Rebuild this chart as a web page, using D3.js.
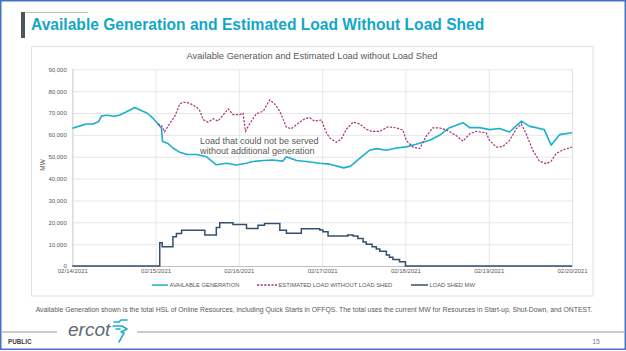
<!DOCTYPE html>
<html><head><meta charset="utf-8">
<script src="https://cdn.jsdelivr.net/npm/d3@7/dist/d3.min.js"></script>
<style>
body{margin:0;background:#fff}
svg{display:block}
text{font-family:"Liberation Sans",Arial,Helvetica,sans-serif}
</style>
</head><body>
<svg id="c" width="626" height="351"></svg>
<script>
// ---- data ----
const dayLabels = ["02/14/2021","02/15/2021","02/16/2021","02/17/2021","02/18/2021","02/19/2021","02/20/2021"];
const yTicks = [0,10000,20000,30000,40000,50000,60000,70000,80000,90000];
const seriesNames = ["AVAILABLE GENERATION","ESTIMATED LOAD WITHOUT LOAD SHED","LOAD SHED MW"];

// hours since 02/14/2021 00:00
const genHours = [0,2,4,6,7.5,8.5,10,12,13.5,15.5,18,20,21.5,23.3,24.7,25.7,26,27.6,29,31,33,35.8,38.6,41.5,44.4,47.3,50.2,52,55,57.8,60.7,61.7,64.6,67.4,71.3,74.2,78.2,80.2,82.8,85.7,87.6,90.5,93.4,96.2,99.1,103,105.8,108.7,112.6,114.5,117.4,120.2,123.1,126,129.4,131.8,133.7,136,138,140.4,144];
const genMW = [63000,64000,65000,65000,66000,68700,69000,68500,69000,70500,72500,71000,70000,67500,65000,63000,57000,56000,54000,52000,51000,51000,50000,46300,47000,46200,47000,47800,48300,48500,48000,50000,48300,47800,47000,46600,44900,45700,49200,53000,53700,53000,54000,54500,55700,57500,59800,63300,65600,63300,63300,62400,62900,61300,66300,63900,63300,62400,55300,60100,61000];

const loadHours = [24.7,25.7,26.6,28,29.5,31,32,33.8,35.8,36.7,37.7,39.1,40.6,42,43.4,44.9,46.3,48.2,49.2,49.9,51.1,53,55,56.9,58.3,59.8,61.7,63.1,65.5,67,68.4,69.8,71.8,73.2,74.2,76.1,77.5,79,80.9,82.8,84.7,86.2,88.6,91,93.4,95.3,96.2,98.2,100.1,102,103.9,105.8,107.8,110.6,112.6,114.5,116.4,119.3,120.2,122.2,124.1,126,127.9,129.4,130.8,132.7,134.6,136.6,138,139.4,141.4,144];
const loadMW = [65000,64300,61400,65000,68400,74200,75000,74500,72700,71200,67000,65800,67400,66300,68900,71900,69300,69300,69900,61700,65000,69600,70800,76000,74200,70800,63500,62800,65800,67400,67900,66300,66800,61000,58600,56600,58000,62600,65800,65000,62600,61600,61600,63700,63200,62200,57500,54400,53700,59400,63200,63200,62200,59700,57100,60500,61600,60900,57500,54400,54700,57500,62600,65000,60500,52900,48000,46800,48000,51400,53200,54400];

const shedHours = [0,25.2,25.9,29,30,31.5,38.2,41.5,42.5,46.3,50.2,53.5,55.4,59.8,61.7,66,71.3,72.2,73.7,79.4,80.9,82.3,83.8,84.7,86.4,87.6,88.6,90.5,91.4,92.4,94.3,96,144];
const shedMW = [0,10600,8800,13400,14900,16400,14150,17650,19800,19000,17200,18700,19500,16400,15000,17000,16500,15700,13700,14150,13700,12600,11000,10000,8800,7800,6800,5000,4000,3000,1900,0,0];

// ---- drawing ----
const svg = d3.select("#c");
const W = 626, H = 351;
const teal = "#1DAFCD", magenta = "#A8307A", navy = "#33506F", grey = "#595959";

svg.append("rect").attr("x",0).attr("y",0).attr("width",W).attr("height",H).attr("fill","#fff");

// slide header
svg.append("line").attr("x1",21).attr("x2",88).attr("y1",12.5).attr("y2",12.5).attr("stroke","#BFBFBF").attr("stroke-width",1.2);
svg.append("rect").attr("x",21).attr("y",12).attr("width",4).attr("height",26).attr("fill","#4A5660");
svg.append("text").attr("x",31).attr("y",29.5).attr("font-size",15.6).attr("font-weight","bold")
  .attr("fill","#12A7C7").text("Available Generation and Estimated Load Without Load Shed");

// chart box
svg.append("rect").attr("x",31.5).attr("y",46.5).attr("width",561.5).attr("height",249.5)
  .attr("fill","#fff").attr("stroke","#E3E3E3").attr("stroke-width",1);

svg.append("text").attr("x",312).attr("y",58.5).attr("text-anchor","middle").attr("font-size",9.3)
  .attr("fill",grey).text("Available Generation and Estimated Load without Load Shed");

const t0 = new Date(2021,1,14);
const toDate = h => new Date(t0.getTime() + h*3600e3);
const dayDates = dayLabels.map((d,i)=>toDate(i*24));
const x = d3.scaleTime().domain([t0, toDate(144)]).range([72.3,572]);
const y = d3.scaleLinear().domain([0,90000]).range([266,69.3]);

// y axis + horizontal grid
const gy = svg.append("g").attr("transform","translate(72.3,0)")
  .call(d3.axisLeft(y).tickValues(yTicks).tickFormat(d3.format(",")).tickSize(-(572-72.3)).tickPadding(5.5));
gy.select(".domain").remove();
gy.selectAll(".tick line").attr("stroke","#E4E4E4").attr("stroke-width",0.9);
gy.selectAll(".tick text").attr("font-size",6).attr("fill",grey).attr("font-family","Liberation Sans, Arial, sans-serif");

// x axis + vertical grid
const gx = svg.append("g").attr("transform","translate(0,266)")
  .call(d3.axisBottom(x).tickValues(dayDates).tickFormat((d,i)=>dayLabels[i]).tickSize(-(266-69.3)).tickPadding(3));
gx.select(".domain").attr("stroke","#BFBFBF").attr("stroke-width",1);
gx.selectAll(".tick line").attr("stroke","#E4E4E4").attr("stroke-width",0.9);
gx.selectAll(".tick text").attr("font-size",6).attr("fill",grey).attr("font-family","Liberation Sans, Arial, sans-serif");

// y axis title
svg.append("text").attr("transform","translate(45,165) rotate(-90)").attr("text-anchor","middle")
  .attr("font-size",6.5).attr("fill",grey).text("MW");

// lines
const lineLin = d3.line().x(d=>x(toDate(d[0]))).y(d=>y(d[1]));
const lineStep = d3.line().x(d=>x(toDate(d[0]))).y(d=>y(d[1])).curve(d3.curveStepAfter);

svg.append("path").datum(shedHours.map((h,i)=>[h,shedMW[i]]))
  .attr("d",lineStep).attr("fill","none").attr("stroke",navy).attr("stroke-width",1.5);
svg.append("path").datum(genHours.map((h,i)=>[h,genMW[i]]))
  .attr("d",lineLin).attr("fill","none").attr("stroke",teal).attr("stroke-width",1.6).attr("stroke-linejoin","round");
svg.append("path").datum(loadHours.map((h,i)=>[h,loadMW[i]]))
  .attr("d",lineLin).attr("fill","none").attr("stroke",magenta).attr("stroke-width",1.2).attr("stroke-dasharray","2.2,1.4");

// annotation
const ann = svg.append("text").attr("font-size",9).attr("fill",grey);
ann.append("tspan").attr("x",200).attr("y",143.5).text("Load that could not be served");
ann.append("tspan").attr("x",200).attr("y",153.5).text("without additional generation");

// legend
const legend = [
  {name:seriesNames[0], x1:152, x2:168, color:teal, dash:null},
  {name:seriesNames[1], x1:257, x2:277, color:magenta, dash:"2.2,1.4"},
  {name:seriesNames[2], x1:411, x2:428, color:navy, dash:null}
];
legend.forEach(l=>{
  svg.append("line").attr("x1",l.x1).attr("x2",l.x2).attr("y1",285).attr("y2",285)
    .attr("stroke",l.color).attr("stroke-width",1.5).attr("stroke-dasharray",l.dash);
  svg.append("text").attr("x",l.x2+1.5).attr("y",287.2).attr("font-size",5.8).attr("fill",grey).text(l.name);
});

// footer note
svg.append("text").attr("x",314).attr("y",312).attr("text-anchor","middle").attr("font-size",6.85).attr("fill",grey)
  .text("Available Generation shown is the total HSL of Online Resources, including Quick Starts in OFFQS. The total uses the current MW for Resources in Start-up, Shut-Down, and ONTEST.");

// footer bar
svg.append("line").attr("x1",2).attr("x2",57).attr("y1",332).attr("y2",332).attr("stroke","#7F7F7F").attr("stroke-width",0.8);
svg.append("line").attr("x1",137).attr("x2",624).attr("y1",332).attr("y2",332).attr("stroke","#7F7F7F").attr("stroke-width",0.8);
svg.append("text").attr("x",68).attr("y",336).attr("font-size",19).attr("font-style","italic").attr("fill","#5E6A73").text("ercot");
const icon = svg.append("g").attr("fill","none").attr("stroke",teal).attr("stroke-width",1.6).attr("stroke-linecap","round").attr("stroke-linejoin","round");
icon.append("path").attr("d","M114,322 L119,322 L121,320 L127,320");
icon.append("path").attr("d","M113,326 L122,326 L127,329 L121,332 L124,333 L119,342");
icon.append("path").attr("d","M116,329 L120,329");
svg.append("text").attr("x",8).attr("y",343.5).attr("font-size",6.3).attr("font-weight","bold").attr("fill","#404040").text("PUBLIC");
svg.append("text").attr("x",600).attr("y",343.5).attr("text-anchor","end").attr("font-size",7).attr("fill","#7F7F7F").text("15");

// slide border
svg.append("rect").attr("x",0.75).attr("y",0.75).attr("width",W-1.5).attr("height",H-2.5)
  .attr("fill","none").attr("stroke","#4472C4").attr("stroke-width",1.5);
</script>
</body></html>
